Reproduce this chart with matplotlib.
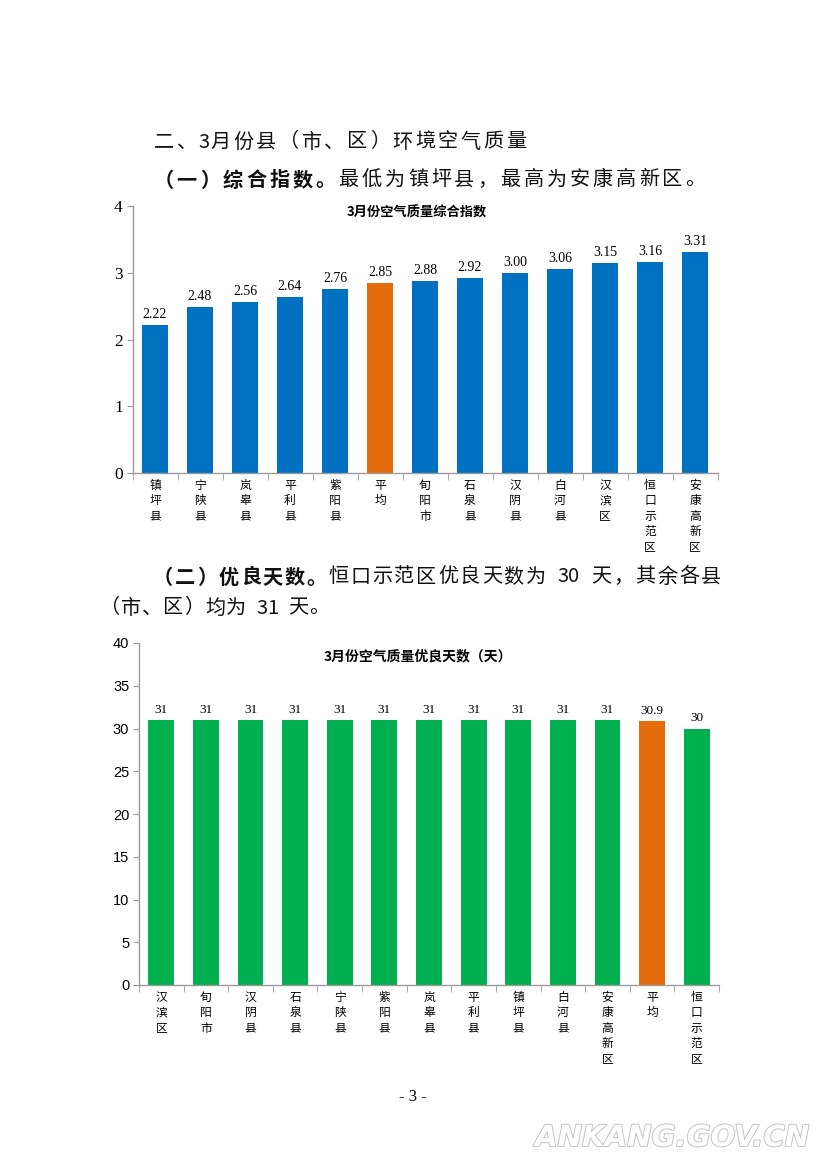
import matplotlib
matplotlib.use("Agg")
import matplotlib.pyplot as plt
import matplotlib.patheffects as pe

plt.rcParams['font.family'] = ['Noto Sans CJK SC', 'DejaVu Sans']

# ---- data ----
idx_names = ["镇坪县", "宁陕县", "岚皋县", "平利县", "紫阳县", "平均", "旬阳市",
             "石泉县", "汉阴县", "白河县", "汉滨区", "恒口示范区", "安康高新区"]
idx_values = [2.22, 2.48, 2.56, 2.64, 2.76, 2.85, 2.88, 2.92, 3.00, 3.06, 3.15, 3.16, 3.31]

day_names = ["汉滨区", "旬阳市", "汉阴县", "石泉县", "宁陕县", "紫阳县", "岚皋县",
             "平利县", "镇坪县", "白河县", "安康高新区", "平均", "恒口示范区"]
day_values = [31, 31, 31, 31, 31, 31, 31, 31, 31, 31, 31, 30.9, 30]
day_labels = ["31", "31", "31", "31", "31", "31", "31", "31", "31", "31", "31", "30.9", "30"]

idx_ticks = [0, 1, 2, 3, 4]
day_ticks = [0, 5, 10, 15, 20, 25, 30, 35, 40]

BLUE = "#0070C0"
ORANGE = "#E46C0A"
GREEN = "#00B050"
AXC = "#9a9a9a"

W, H = 827, 1169
fig = plt.figure(figsize=(W / 100, H / 100), dpi=100)
fig.patch.set_facecolor("white")


def px_axes(x0, x1, ytop, ybot):
    return fig.add_axes([x0 / W, 1 - ybot / H, (x1 - x0) / W, (ybot - ytop) / H])


def spaced(x0, x1, y, segments, size=14.5):
    """Place characters in cells spread evenly between x0 and x1 (pixels)."""
    units = 0.0
    for txt, _ in segments:
        for c in txt:
            units += 0.5 if ord(c) < 128 else 1.0
    adv = (x1 - x0) / units
    pos = x0
    for txt, weight in segments:
        for c in txt:
            u = 0.5 if ord(c) < 128 else 1.0
            if c != " ":
                fig.text((pos + u * adv / 2) / W, 1 - y / H, c, fontsize=size,
                         fontweight=weight, ha="center", va="center",
                         color="#111111")
            pos += u * adv


def style(ax, n, ylim, ticks, ylab_font, ylab_size):
    ax.set_xlim(-0.5, n - 0.5)
    ax.set_ylim(*ylim)
    for s in ["top", "right"]:
        ax.spines[s].set_visible(False)
    for s in ["left", "bottom"]:
        ax.spines[s].set_color(AXC)
        ax.spines[s].set_linewidth(1.0)
    ax.set_yticks(ticks)
    ax.set_yticklabels([str(t) for t in ticks], family=ylab_font, fontsize=ylab_size)
    ax.tick_params(axis="y", direction="out", length=4, color=AXC, pad=3)
    ax.set_xticks([i - 0.5 for i in range(n + 1)], minor=True)
    ax.tick_params(axis="x", which="minor", direction="out", length=5, color=AXC)
    ax.tick_params(axis="x", which="major", length=0, pad=4)


# ---- text body ----
spaced(153, 527, 142, [("二、3月份县（市、区）环境空气质量", "normal")])
spaced(152, 707, 180, [("（一）综合指数。", "bold"), ("最低为镇坪县，最高为安康高新区。", "normal")])
spaced(152, 722, 577, [("（二）优良天数。", "bold"), ("恒口示范区优良天数为 30 天，其余各县", "normal")])
spaced(100, 330, 608, [("（市、区）均为 31 天。", "normal")])

fig.text(413 / W, 1 - 1097 / H, "- 3 -", fontsize=12, va="center", ha="center",
         family=["Liberation Serif"])

wm = fig.text(672 / W, 1 - 1138 / H, "ANKANG.GOV.CN", fontsize=21, va="center",
              ha="center", family=["DejaVu Sans"], fontweight="bold", style="italic",
              color="white")
wm.set_path_effects([pe.withStroke(linewidth=1.4, foreground="#c4c4c4")])

# ---- chart 1 ----
ax1 = px_axes(132.5, 717.5, 206, 473)
n1 = len(idx_names)
cols1 = [ORANGE if nm == "平均" else BLUE for nm in idx_names]
ax1.bar(range(n1), idx_values, width=0.58, color=cols1)
style(ax1, n1, (0, 4), idx_ticks, ["Liberation Serif"], 12.5)
ax1.set_xticks(range(n1))
ax1.set_xticklabels(["\n".join(nm) for nm in idx_names], fontsize=8.5,
                    linespacing=1.25, va="top")
for i, v in enumerate(idx_values):
    ax1.annotate(f"{v:.2f}", (i, v), xytext=(0, 3), textcoords="offset points",
                 ha="center", va="bottom", fontsize=10, family=["Liberation Serif"])
ax1.text((417 - 132.5) / 585, 0.975, "3月份空气质量综合指数", transform=ax1.transAxes,
         ha="center", va="center", fontsize=9.5, fontweight="bold")

# ---- chart 2 ----
ax2 = px_axes(139, 719, 643, 985)
n2 = len(day_names)
cols2 = [ORANGE if nm == "平均" else GREEN for nm in day_names]
ax2.bar(range(n2), day_values, width=0.58, color=cols2)
style(ax2, n2, (0, 40), day_ticks, ["Liberation Sans"], 10.5)
ax2.set_xticks(range(n2))
ax2.set_xticklabels(["\n".join(nm) for nm in day_names], fontsize=8.5,
                    linespacing=1.25, va="top")
for i, (v, lab) in enumerate(zip(day_values, day_labels)):
    ax2.annotate(lab, (i, v), xytext=(0, 3), textcoords="offset points",
                 ha="center", va="bottom", fontsize=9.5, family=["Liberation Serif"])
ax2.text((418 - 139) / 580, 0.96, "3月份空气质量优良天数（天）", transform=ax2.transAxes,
         ha="center", va="center", fontsize=10, fontweight="bold")

fig.savefig("out.png", dpi=100, facecolor="white")
